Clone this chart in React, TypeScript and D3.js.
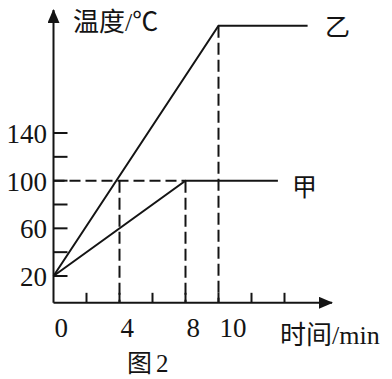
import React from "react";
import * as d3 from "d3";

const W = 392;
const H = 379;

// data (time in min, temperature in °C)
const seriesJia: [number, number][] = [
  [0, 20],
  [8, 100],
  [13.6, 100],
];
const seriesYi: [number, number][] = [
  [0, 20],
  [10, 230],
  [15.4, 230],
];
const yTicks = [20, 40, 60, 80, 100, 120, 140];
const yTickLabels = [20, 60, 100, 140];
const xTicks = [2, 4, 6, 8, 10, 12, 14];
const xTickLabels = [0, 4, 8, 10];
const dashedH: [number, number, number][] = [[0, 8, 100]];
const dashedV: [number, number, number][] = [
  [4, 100, 0],
  [8, 100, 0],
  [10, 230, 0],
];

const serif = "'Liberation Serif', 'Noto Sans CJK SC', serif";
const ink = "#141414";

export default function App() {
  const x = d3.scaleLinear().domain([0, 14]).range([53.5, 284.5]);
  const y = d3.scaleLinear().domain([20, 140]).range([276, 133]);
  const axisY = y(-2.5);
  const x0 = x(0);
  const line = d3
    .line<[number, number]>()
    .x((d) => x(d[0]))
    .y((d) => y(d[1]));

  return (
    <svg
      width={W}
      height={H}
      style={{ position: "absolute", left: 0, top: 0, background: "#fff" }}
    >
      <defs>
        <marker id="arr" viewBox="0 0 14 12" refX="13" refY="6" markerWidth="14" markerHeight="12" markerUnits="userSpaceOnUse" orient="auto">
          <path d="M0,0 L14,6 L0,12 Z" fill={ink} />
        </marker>
      </defs>
      <line x1={x0} y1={axisY} x2={x0} y2={10} stroke={ink} strokeWidth={2} markerEnd="url(#arr)" />
      <line x1={x0} y1={axisY} x2={332} y2={axisY} stroke={ink} strokeWidth={2} markerEnd="url(#arr)" />
      {yTicks.map((t) => (
        <line key={"yt" + t} x1={x0} x2={x0 + 14} y1={y(t)} y2={y(t)} stroke={ink} strokeWidth={2} />
      ))}
      {xTicks.map((t) => (
        <line key={"xt" + t} x1={x(t)} x2={x(t)} y1={axisY} y2={axisY - 10} stroke={ink} strokeWidth={2} />
      ))}
      {dashedH.map(([a, b, v], i) => (
        <line key={"dh" + i} x1={x(a)} x2={x(b)} y1={y(v)} y2={y(v)} stroke={ink} strokeWidth={2} strokeDasharray="11 5" />
      ))}
      {dashedV.map(([t, v0], i) => (
        <line key={"dv" + i} x1={x(t)} x2={x(t)} y1={y(v0)} y2={axisY} stroke={ink} strokeWidth={2} strokeDasharray="12 5" />
      ))}
      <path d={line(seriesJia) || ""} fill="none" stroke={ink} strokeWidth={2} />
      <path d={line(seriesYi) || ""} fill="none" stroke={ink} strokeWidth={2} />
      {yTickLabels.map((t) => (
        <text key={"yl" + t} x={47} y={y(t) + 10} textAnchor="end" fontFamily={serif} fontSize={27} fill={ink}>
          {t}
        </text>
      ))}
      {xTickLabels.map((t) => (
        <text key={"xl" + t} x={x(t) + 1} y={337} textAnchor="start" fontFamily={serif} fontSize={27} fill={ink}>
          {t}
        </text>
      ))}
      <text x={73} y={31} fontFamily={serif} fontSize={26} fill={ink}>温度/℃</text>
      <text x={280} y={344} fontFamily={serif} fontSize={26} fill={ink}>时间/min</text>
      <text x={292} y={196} fontFamily={serif} fontSize={25} fill={ink}>甲</text>
      <text x={325} y={36} fontFamily={serif} fontSize={25} fill={ink}>乙</text>
      <text x={127} y={372} fontFamily={serif} fontSize={25} fill={ink}>图<tspan dx={4}>2</tspan></text>
    </svg>
  );
}
